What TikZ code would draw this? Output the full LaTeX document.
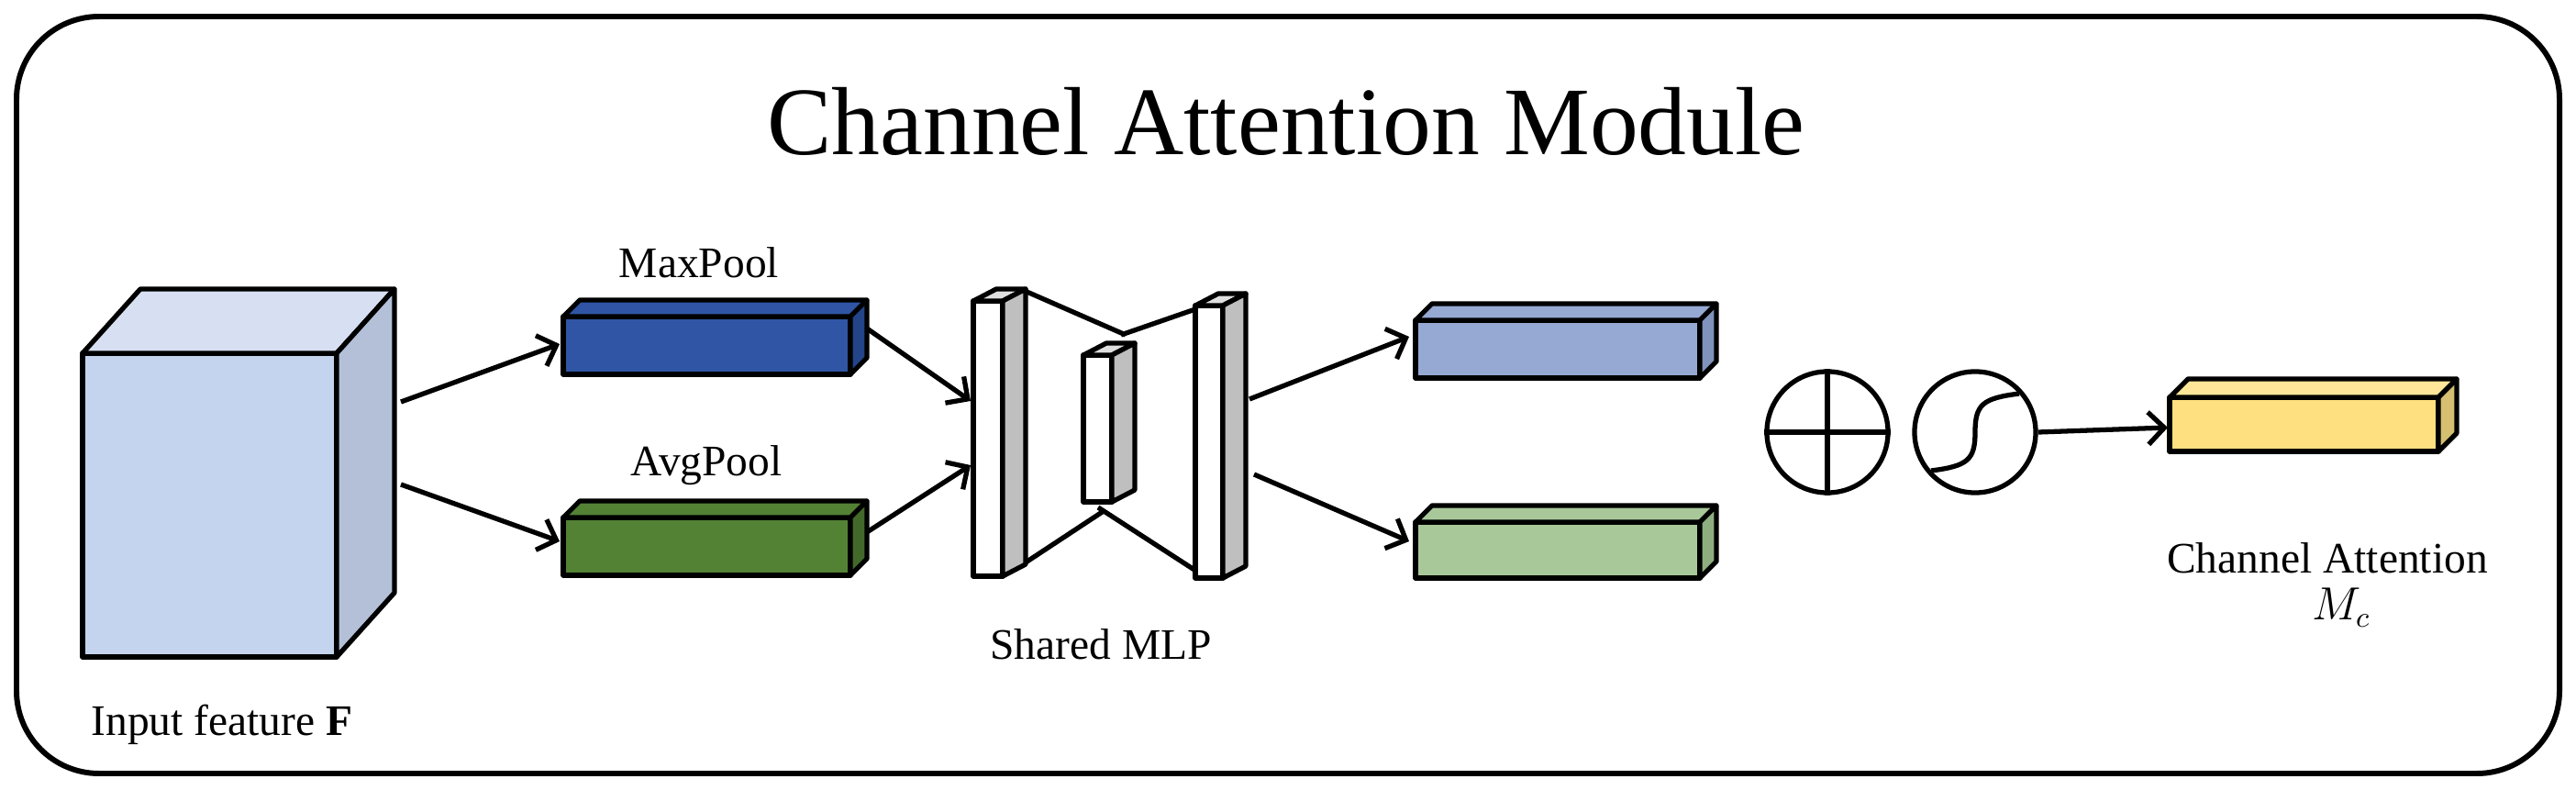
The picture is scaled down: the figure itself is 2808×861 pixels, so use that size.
\documentclass[tikz,border=0pt]{standalone}
\usepackage{fontspec}
\setmainfont{Liberation Serif}
\usetikzlibrary{arrows.meta}
\definecolor{cubeF}{HTML}{C5D4EE}
\definecolor{cubeT}{HTML}{D7E0F2}
\definecolor{cubeS}{HTML}{B3C0D8}
\definecolor{maxF}{HTML}{2F55A4}
\definecolor{maxS}{HTML}{24448A}
\definecolor{avgF}{HTML}{548235}
\definecolor{avgS}{HTML}{43692A}
\definecolor{outbF}{HTML}{95A9D3}
\definecolor{outbS}{HTML}{7F93BC}
\definecolor{outgF}{HTML}{A9C89A}
\definecolor{outgS}{HTML}{8FAE80}
\definecolor{yelF}{HTML}{FFE080}
\definecolor{yelT}{HTML}{FFE699}
\definecolor{yelS}{HTML}{D5BF70}
% x, y, width, height, dx, dy, front, top, side
\newcommand{\cuboid}[9]{%
  \filldraw[fill=#7] (#1,#2) rectangle ++(#3,#4);
  \filldraw[fill=#8] (#1,#2) -- ++(#5,-#6) -- ++(#3,0) -- ++(-#5,#6) -- cycle;
  \filldraw[fill=#9] ({#1+#3},#2) -- ++(#5,-#6) -- ++(0,#4) -- ++(-#5,#6) -- cycle;
}
\tikzset{
  box/.style={line width=1.5pt, line join=round},
  arr/.style={line width=1.5pt, -{Straight Barb[length=5pt,width=10pt]}},
  lbl/.style={font=\fontsize{13.5}{15}\selectfont}
}
\begin{document}
\begin{tikzpicture}[x=0.01cm, y=-0.01cm, box]
    \useasboundingbox (0,0) rectangle (2808,861);
    % Outer frame and title
    \draw[line width=1.7pt, rounded corners=0.9cm] (18,18) rectangle (2790,843);
    \node (title) at (1402,132) {\fontsize{30}{34}\selectfont Channel Attention Module};

    % Input feature
    \cuboid{90}{385}{277}{331}{63}{70}{cubeF}{cubeT}{cubeS}
    \node[lbl] (inlbl) at (242,790) {Input feature \textbf{F}};

    % Pooling
    \cuboid{614}{345}{313}{63}{18}{18}{maxF}{maxF}{maxS}
    \cuboid{614}{564}{313}{63}{18}{18}{avgF}{avgF}{avgS}
    \node[lbl] (maxlbl) at (762,286) {MaxPool};
    \node[lbl] (avglbl) at (770,507) {AvgPool};

    % Shared MLP
    \cuboid{1061}{328}{32}{300}{25}{13}{white}{gray!25}{gray!50}
    \draw (1117,317) -- (1227,365);
    \draw (1118,613) -- (1203,557);
    \cuboid{1181}{387}{31}{160}{25}{13}{white}{gray!25}{gray!50}
    \draw (1222,365) -- (1303,337);
    \draw (1197,553) -- (1305,623);
    \cuboid{1303}{333}{30}{297}{25}{13}{white}{gray!25}{gray!50}
    \node[lbl] (mlplbl) at (1200,702) {Shared MLP};

    % Outputs of MLP
    \cuboid{1543}{349}{310}{63}{18}{18}{outbF}{outbF}{outbS}
    \cuboid{1543}{569}{310}{61}{18}{18}{outgF}{outgF}{outgS}

    % Sum and sigmoid
    \node[draw, circle, minimum size=1.32cm, inner sep=0pt] (sum) at (1992,471) {};
    \draw (sum.north) -- (sum.south) (sum.west) -- (sum.east);
    \node[draw, circle, minimum size=1.32cm, inner sep=0pt] (sig) at (2153,471) {};
    \draw (sig.center) ++(-48,42) .. controls ++(40,-5) and ++(0,30) .. ++(48,-42)
          .. controls ++(0,-30) and ++(-40,5) .. ++(48,-42);

    % Channel attention
    \cuboid{2365}{433}{293}{59}{20}{20}{yelF}{yelT}{yelS}
    \node[lbl] (calbl) at (2537,608) {Channel Attention};
    \node[lbl] (mclbl) at (2552,662) {$M_c$};

    % Arrows
    \coordinate (c1) at (437,438);  \coordinate (m1) at (610,375);
    \coordinate (c2) at (437,528);  \coordinate (a1) at (610,590);
    \coordinate (m2) at (945,358);  \coordinate (l1) at (1058,437);
    \coordinate (a2) at (945,580);  \coordinate (l2) at (1058,507);
    \coordinate (r1) at (1362,435); \coordinate (b1) at (1536,367);
    \coordinate (r2) at (1367,517); \coordinate (g1) at (1536,590);
    \coordinate (y1) at (2363,466);
    \draw[arr] (c1) -- (m1);
    \draw[arr] (c2) -- (a1);
    \draw[arr] (m2) -- (l1);
    \draw[arr] (a2) -- (l2);
    \draw[arr] (r1) -- (b1);
    \draw[arr] (r2) -- (g1);
    \draw[arr] (sig.east) -- (y1);
\end{tikzpicture}
\end{document}
